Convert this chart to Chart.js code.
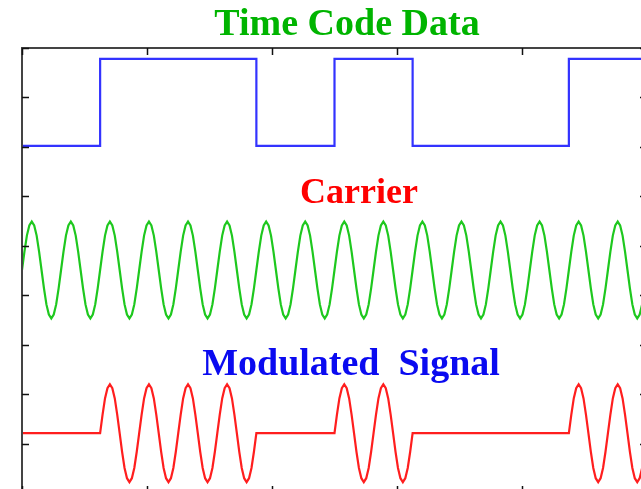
<!DOCTYPE html>
<html>
<head>
<meta charset="utf-8">
<script src="https://cdn.jsdelivr.net/npm/chart.js@4/dist/chart.umd.min.js"></script>
<style>
html,body{margin:0;padding:0;overflow:hidden;background:#fff;}
canvas{position:absolute;left:0;top:0;}
</style>
</head>
<body>
<canvas id="fsk" width="660" height="500"></canvas>
<script>
// data
const bits = [0, 1, 1, 0, 1, 0, 0, 1];
const bitTime = 0.625;
const cyclesPerBit = 2;
// one carrier cycle (normalised)
const carrierCycle = [0, 0.38, 0.71, 0.92, 1, 0.92, 0.71, 0.38, 0, -0.38, -0.71, -0.92, -1, -0.92, -0.71, -0.38];
const codeLevels = [7.02, 8.78];      // low, high
const carrierMid = 4.51, carrierAmp = 0.98;
const modMid = 1.21, modAmp = 0.99;
const xTicks = [0, 1, 2, 3, 4, 5];
const yTicks = [0, 1, 2, 3, 4, 5, 6, 7, 8, 9];

const codeData = [], carrierData = [], modData = [];
const perBit = carrierCycle.length * cyclesPerBit;
bits.forEach((b, i) => {
    const t0 = i * bitTime;
    codeData.push({x: t0, y: codeLevels[b]});
    for (let k = 0; k < perBit; k++) {
        const t = t0 + k * bitTime / perBit;
        const s = carrierCycle[k % carrierCycle.length];
        carrierData.push({x: t, y: carrierMid + carrierAmp * s});
        modData.push({x: t, y: b ? modMid + modAmp * s : modMid});
    }
});
const tEnd = bits.length * bitTime;
codeData.push({x: tEnd, y: codeLevels[bits[bits.length - 1]]});
carrierData.push({x: tEnd, y: carrierMid});
modData.push({x: tEnd, y: modMid});

const frame = {
    id: "frame",
    afterDatasetsDraw(chart){
        const c = chart.ctx, a = chart.chartArea;
        const xs = chart.scales.x, ys = chart.scales.y;
        c.save();
        c.strokeStyle = "#444";
        c.lineWidth = 2;
        c.strokeRect(a.left, a.top, a.right - a.left, a.bottom - a.top);
        c.lineWidth = 1.5;
        c.strokeStyle = "#111";
        c.beginPath();
        xTicks.forEach(v => {
            const px = Math.round(xs.getPixelForValue(v)) + 0.5;
            c.moveTo(px, a.top); c.lineTo(px, a.top + 7);
            c.moveTo(px, a.bottom); c.lineTo(px, a.bottom - 7);
        });
        yTicks.forEach(v => {
            const py = Math.round(ys.getPixelForValue(v)) + 0.5;
            c.moveTo(a.left, py); c.lineTo(a.left + 7, py);
            c.moveTo(a.right, py); c.lineTo(a.right - 7, py);
        });
        c.stroke();

        c.textAlign = "center";
        c.textBaseline = "alphabetic";
        c.font = 'bold 38px "Liberation Serif", "Times New Roman", serif';
        c.fillStyle = "#00b400";
        c.fillText("Time Code Data", 347, 35);
        c.font = 'bold 36px "Liberation Serif", "Times New Roman", serif';
        c.fillStyle = "#ff0000";
        c.fillText("Carrier", 359, 203);
        c.font = 'bold 38px "Liberation Serif", "Times New Roman", serif';
        c.fillStyle = "#0a0af0";
        c.fillText("Modulated  Signal", 351, 375);
        c.restore();
    }
};

new Chart(document.getElementById("fsk"), {
    type: "line",
    data: {
        datasets: [
            {data: codeData, borderColor: "#3333ff", borderWidth: 2.2, stepped: true, pointRadius: 0},
            {data: carrierData, borderColor: "#1ec81e", borderWidth: 2.2, pointRadius: 0, tension: 0},
            {data: modData, borderColor: "#ff1e1e", borderWidth: 2.2, pointRadius: 0, tension: 0}
        ]
    },
    options: {
        responsive: false,
        animation: false,
        events: [],
        layout: {padding: {left: 22, top: 48, right: 13, bottom: 7}},
        plugins: {legend: {display: false}, tooltip: {enabled: false}},
        scales: {
            x: {type: "linear", min: 0, max: 5, display: false},
            y: {min: 0, max: 9, display: false}
        }
    },
    plugins: [frame]
});
</script>
</body>
</html>
